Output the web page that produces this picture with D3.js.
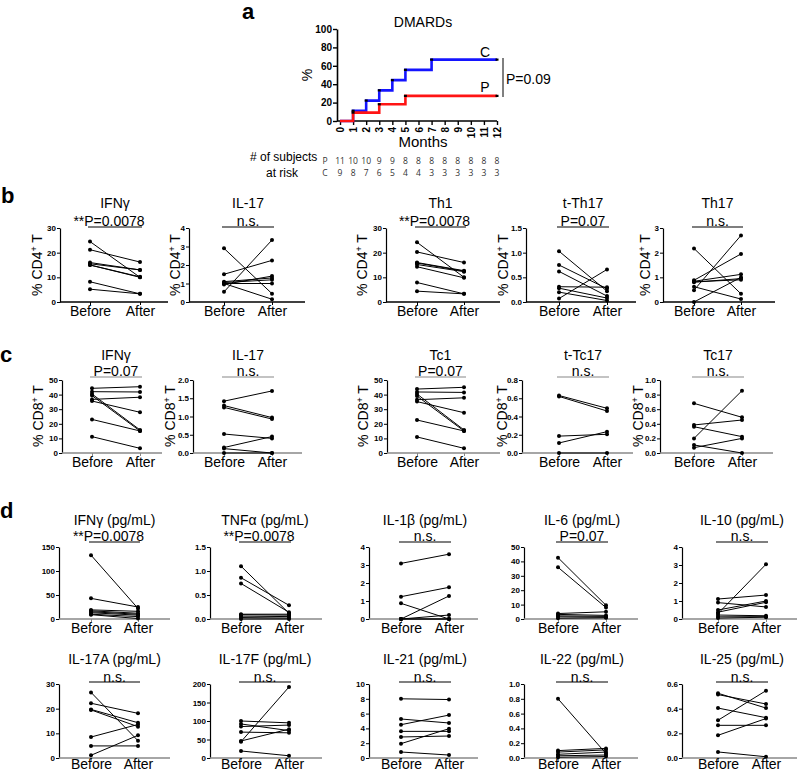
<!DOCTYPE html>
<html><head><meta charset="utf-8">
<script src="https://cdn.jsdelivr.net/npm/d3@7"></script>
<style>
body{margin:0;background:#fff}
svg{display:block;font-family:"Liberation Sans",Arial,sans-serif}
</style>
</head><body>
<svg id="chart" width="798" height="772"></svg>
<script>
// ================= DATA =================
// Panel a: cumulative incidence (DMARDs)
const months = [0,1,2,3,4,5,6,7,8,9,10,11,12];
const kmC_time = [0,1,2,3,4,5,7,12];
const kmC_pct  = [0,11.1,22.2,33.3,44.4,55.6,66.7,66.7];
const kmP_time = [0,1,3,5,12];
const kmP_pct  = [0,9.1,18.2,27.3,27.3];
const kmYTicks = [0,20,40,60,80,100];
const riskP = [11,10,10,9,9,8,8,8,8,8,8,8,8];
const riskC = [9,8,7,6,5,4,4,3,3,3,3,3,3];

const categories = ["Before","After"];

// Panel b: % CD4+ T
const bIFNgBefore  = [24.5,21.2,16,15.5,15,15,8.2,5.2];
const bIFNgAfter   = [10,16.2,13,13,10.2,10,3.3,3.3];
const bIL17Before  = [2.9,1.5,1.1,1.05,1.0,0.95,1.0,0.55];
const bIL17After   = [0.45,2.25,1.3,1.2,1.0,1.4,0.15,3.35];
const bTh1Before   = [24.2,20.3,16,15.8,15.2,14.3,7.9,4.4];
const bTh1After    = [10,16,12.7,12.5,12.3,9.8,3.3,3.3];
const bTTh17Before = [1.03,0.75,0.62,0.31,0.28,0.2,0.07];
const bTTh17After  = [0.22,0.27,0.12,0.3,0.08,0.03,0.66];
const bTh17Before  = [2.17,0.48,0.88,0.84,0.8,0.82,0.62,0];
const bTh17After   = [0.33,2.7,1.95,1.12,0.95,0.9,0.12,1.0];

// Panel c: % CD8+ T
const cIFNgBefore  = [44.3,42,40.4,39.3,36.7,35.6,23,11.2];
const cIFNgAfter   = [45.4,41.8,15.8,15.1,38.2,27.9,15.1,3.2];
const cIL17Before  = [1.42,1.3,1.25,0.52,0.15,0.12,0];
const cIL17After   = [1.7,0.97,0.93,0.4,0.45,0,0];
const cTc1Before   = [43.8,41.8,40.4,39,36.5,35.2,22.6,11];
const cTc1After    = [45,41.5,15.8,15.1,37.8,27.6,15.1,3.2];
const cTTc17Before = [0.63,0.62,0.185,0.11,0];
const cTTc17After  = [0.49,0.46,0.205,0.234,0];
const cTc17Before  = [0.68,0.2,0.384,0.36,0.11,0.073];
const cTc17After   = [0.489,0.854,0.452,0.224,0,0.2];

// Panel d: serum cytokines (pg/mL)
const dIFNgBefore  = [133,43,19,17,15,13,10,9];
const dIFNgAfter   = [22,25,16,12,10,8,5,1];
const dTNFaBefore  = [1.10,0.86,0.74,0.1,0.09,0.06,0.03,0];
const dTNFaAfter   = [0.12,0.285,0.14,0.1,0.08,0.05,0.02,0];
const dIL1bBefore  = [3.09,1.24,0.87,0,0,0,0];
const dIL1bAfter   = [3.6,1.76,0,1.28,0.22,0,0];
const dIL6Before   = [42.6,35.9,3.8,3.2,2.2,1.5,0.5];
const dIL6After    = [9.5,7.9,5,2.5,1.8,1.2,0.8];
const dIL10Before  = [0.3,1.11,0.91,0.5,0.38,0.22,0.12,0.05];
const dIL10After   = [3.04,1.33,0.67,1.0,0.93,0.18,0.13,0.1];
const dIL17ABefore = [26.6,22.2,19.7,19.5,8.5,4.9,1.1];
const dIL17AAfter  = [7.0,18.1,14.3,12.7,13.6,4.9,9.2];
const dIL17FBefore = [100,92,85,70,44,46,19];
const dIL17FAfter  = [95,74,89,68,192,78,6];
const dIL21Before  = [8,5.27,4.5,3.6,2.84,1.94,0.81];
const dIL21After   = [7.9,4.73,5.8,3.6,2.97,3.96,0.4];
const dIL22Before  = [0.8,0.1,0.08,0.05,0.03,0.01];
const dIL22After   = [0.06,0.13,0.11,0.08,0.04,0.02];
const dIL25Before  = [0.525,0.514,0.405,0.306,0.265,0.184,0.049];
const dIL25After   = [0.405,0.438,0.327,0.546,0.265,0.32,0.01];

// tick labels
const t30 = [0,10,20,30], t4 = [0,1,2,3,4], t15 = [0,0.5,1.0,1.5], t3 = [0,1,2,3];
const t50 = [0,10,20,30,40,50], t2 = [0,0.5,1.0,1.5,2.0], t08 = [0,0.2,0.4,0.6,0.8], t10 = [0,0.2,0.4,0.6,0.8,1.0];
const t150 = [0,50,100,150], t200 = [0,50,100,150,200], t10i = [0,2,4,6,8,10], t06 = [0,0.2,0.4,0.6];

// ================= DRAW =================
const svg = d3.select("#chart");
const FONT = '"Liberation Sans",Arial,sans-serif';

function txt(x,y,s,size,opts={}){
  const t = svg.append("text").attr("x",x).attr("y",y).text(s)
    .attr("font-size",size).attr("fill",opts.fill||"#000")
    .attr("text-anchor",opts.anchor||"start");
  if(opts.bold) t.attr("font-weight","bold");
  if(opts.family) t.attr("font-family",opts.family);
  return t;
}

// panel letters
txt(242,19,"a",22,{bold:true});
txt(1,203,"b",22,{bold:true});
txt(0,362,"c",22,{bold:true});
txt(0,518,"d",22,{bold:true});

// ---------- Panel a ----------
const kx = d3.scaleLinear().domain([0,12]).range([340,497]);
const ky = d3.scaleLinear().domain([0,100]).range([121,29]);
txt(423,27,"DMARDs",14,{anchor:"middle"});
const kya = svg.append("g").attr("transform","translate(337,0)")
  .call(d3.axisLeft(ky).tickValues(kmYTicks).tickSize(4).tickSizeOuter(0));
kya.select(".domain").attr("stroke-width",1.6);
kya.selectAll(".tick line").attr("stroke-width",1.4);
kya.selectAll("text").attr("font-size",10).attr("font-weight","bold").attr("font-family",FONT).attr("x",-5);
const kxa = svg.append("g").attr("transform","translate(0,121)")
  .call(d3.axisBottom(kx).tickValues(months).tickSize(4).tickSizeOuter(0));
kxa.select(".domain").remove();
kxa.selectAll(".tick line").attr("stroke-width",1.4);
kxa.selectAll("text").attr("font-size",10).attr("font-weight","bold").attr("font-family",FONT)
  .attr("transform","rotate(-90)").attr("text-anchor","end").attr("x",-6).attr("y",0).attr("dy","0.35em");
svg.append("line").attr("x1",337).attr("x2",kx(12)).attr("y1",121).attr("y2",121)
  .attr("stroke","#000").attr("stroke-width",1.6);
const stepLine = d3.line().x(d=>kx(d[0])).y(d=>ky(d[1])).curve(d3.curveStepAfter);
const cPts = kmC_time.map((t,i)=>[t,kmC_pct[i]]);
const pPts = kmP_time.map((t,i)=>[t,kmP_pct[i]]);
svg.append("path").attr("d",stepLine(cPts)).attr("fill","none").attr("stroke","#1414ff").attr("stroke-width",2.6);
svg.append("path").attr("d",stepLine(pPts)).attr("fill","none").attr("stroke","#ff1414").attr("stroke-width",2.6);
[...cPts.slice(1),...pPts.slice(1)].forEach(d=>{
  svg.append("line").attr("x1",kx(d[0])-1.5).attr("x2",kx(d[0])+1.5).attr("y1",ky(d[1])).attr("y2",ky(d[1]))
    .attr("stroke","#000").attr("stroke-width",2.2);
});
svg.append("text").attr("x",307).attr("y",75).attr("transform","rotate(-90,307,75)")
  .attr("text-anchor","middle").attr("dy","0.35em").attr("font-size",14).text("%");
txt(423,147,"Months",15,{anchor:"middle"});
txt(485,57,"C",14,{anchor:"middle"});
txt(485,92,"P",14,{anchor:"middle"});
svg.append("line").attr("x1",503).attr("x2",503).attr("y1",58).attr("y2",97).attr("stroke","#000").attr("stroke-width",1);
txt(506,84,"P=0.09",14);
txt(250,161,"# of subjects",12);
txt(282,177,"at risk",12,{anchor:"middle"});
const RF = "'Open Sans',sans-serif";
txt(325,164,"P",8.5,{anchor:"middle",fill:"#333",family:RF});
txt(325,176,"C",8.5,{anchor:"middle",fill:"#333",family:RF});
months.forEach((m,i)=>{
  txt(kx(m),164,String(riskP[i]),8.5,{anchor:"middle",fill:"#333",family:RF});
  txt(kx(m),176,String(riskC[i]),8.5,{anchor:"middle",fill:"#333",family:RF});
});

// ---------- before/after panels ----------
const rowB  = {yTop:228,yBot:302,titleY:208,pY:226,brY:227,labY:316,ylY:265,xCol:"#000",brCol:"#000"};
const rowC  = {yTop:380,yBot:453,titleY:360,pY:376,brY:377,labY:467,ylY:416,xCol:"#888",brCol:"#888"};
const rowD1 = {yTop:547,yBot:619,titleY:525,pY:541,brY:542,labY:633,xCol:"#888",brCol:"#000"};
const rowD2 = {yTop:684,yBot:758,titleY:664,pY:682,brY:682,labY:769,xCol:"#888",brCol:"#000"};

const colsB = [
  {ax:60, B:90, A:140,end:168,yl:37},
  {ax:189,B:224,A:272,end:305,yl:175},
  {ax:386,B:417,A:464,end:500,yl:362},
  {ax:526,B:559,A:607,end:636,yl:503},
  {ax:663,B:694,A:741,end:775,yl:645}
];
const colsC = [
  {ax:62, B:92, A:140,end:162,yl:38},
  {ax:193,B:224,A:272,end:302,yl:170},
  {ax:387,B:417,A:464,end:500,yl:363},
  {ax:522,B:559,A:607,end:633,yl:502},
  {ax:660,B:694,A:742,end:773,yl:638}
];
const colsD = [
  {ax:59, B:91, A:138,end:170},
  {ax:210,B:241,A:289,end:322},
  {ax:369,B:401,A:449,end:478},
  {ax:524,B:558,A:606,end:638},
  {ax:682,B:718,A:766,end:797}
];

function fmtFor(ticks){
  const dec = ticks.some(v=>!Number.isInteger(v)) ? 1 : 0;
  return d => d3.format("."+dec+"f")(d);
}

function panel(row,col,title,ptext,ticks,before,after,ylab){
  const g = svg.append("g");
  const y = d3.scaleLinear().domain([0,ticks[ticks.length-1]]).range([row.yBot,row.yTop]);
  const x = d3.scalePoint().domain(categories).range([col.B,col.A]);
  // y axis
  const ya = g.append("g").attr("transform",`translate(${col.ax},0)`)
    .call(d3.axisLeft(y).tickValues(ticks).tickSize(3).tickSizeOuter(0).tickFormat(fmtFor(ticks)));
  ya.select(".domain").attr("stroke-width",1.2);
  ya.selectAll("text").attr("font-size",8).attr("font-weight","bold").attr("font-family",FONT).attr("x",-4);
  // x axis
  g.append("line").attr("x1",col.ax).attr("x2",col.end).attr("y1",row.yBot).attr("y2",row.yBot)
    .attr("stroke",row.xCol).attr("stroke-width",1.5);
  const xa = g.append("g").attr("transform",`translate(0,${row.yBot})`)
    .call(d3.axisBottom(x).tickSize(3));
  xa.select(".domain").remove();
  xa.selectAll("line").attr("stroke",row.xCol);
  xa.selectAll("text").attr("font-size",14).attr("font-family",FONT).attr("y",row.labY-row.yBot).attr("dy",0);
  // title + bracket + p text
  const cx = (col.B+col.A)/2;
  g.append("text").attr("x",cx).attr("y",row.titleY).attr("text-anchor","middle").attr("font-size",14).text(title);
  g.append("line").attr("x1",col.B-2).attr("x2",col.A+2).attr("y1",row.brY).attr("y2",row.brY)
    .attr("stroke",row.brCol).attr("stroke-width",1.2);
  g.append("text").attr("x",ptext.startsWith("**")?cx-6:cx).attr("y",row.pY).attr("text-anchor","middle")
    .attr("font-size",14).text(ptext);
  // y label
  if(ylab){
    const t = g.append("text").attr("transform",`translate(${col.yl},${row.ylY}) rotate(-90)`)
      .attr("text-anchor","middle").attr("dy","0.35em").attr("font-size",14);
    t.append("tspan").text("% "+ylab);
    t.append("tspan").attr("dy",-5).attr("font-size",9).text("+");
    t.append("tspan").attr("dy",5).text(" T");
  }
  // paired lines and points
  const pairs = before.map((b,i)=>[b,after[i]]);
  g.selectAll("line.pair").data(pairs).enter().append("line").attr("class","pair")
    .attr("x1",x("Before")).attr("x2",x("After"))
    .attr("y1",d=>y(d[0])).attr("y2",d=>y(d[1]))
    .attr("stroke","#000").attr("stroke-width",1);
  const pts = [];
  pairs.forEach(d=>{pts.push(["Before",d[0]]);pts.push(["After",d[1]]);});
  g.selectAll("circle").data(pts).enter().append("circle")
    .attr("cx",d=>x(d[0])).attr("cy",d=>y(d[1])).attr("r",2).attr("fill","#000");
}

panel(rowB,colsB[0],"IFNγ","**P=0.0078",t30,bIFNgBefore,bIFNgAfter,"CD4");
panel(rowB,colsB[1],"IL-17","n.s.",t4,bIL17Before,bIL17After,"CD4");
panel(rowB,colsB[2],"Th1","**P=0.0078",t30,bTh1Before,bTh1After,"CD4");
panel(rowB,colsB[3],"t-Th17","P=0.07",t15,bTTh17Before,bTTh17After,"CD4");
panel(rowB,colsB[4],"Th17","n.s.",t3,bTh17Before,bTh17After,"CD4");

panel(rowC,colsC[0],"IFNγ","P=0.07",t50,cIFNgBefore,cIFNgAfter,"CD8");
panel(rowC,colsC[1],"IL-17","n.s.",t2,cIL17Before,cIL17After,"CD8");
panel(rowC,colsC[2],"Tc1","P=0.07",t50,cTc1Before,cTc1After,"CD8");
panel(rowC,colsC[3],"t-Tc17","n.s.",t08,cTTc17Before,cTTc17After,"CD8");
panel(rowC,colsC[4],"Tc17","n.s.",t10,cTc17Before,cTc17After,"CD8");

panel(rowD1,colsD[0],"IFNγ (pg/mL)","**P=0.0078",t150,dIFNgBefore,dIFNgAfter);
panel(rowD1,colsD[1],"TNFα (pg/mL)","**P=0.0078",t15,dTNFaBefore,dTNFaAfter);
panel(rowD1,colsD[2],"IL-1β (pg/mL)","n.s.",t4,dIL1bBefore,dIL1bAfter);
panel(rowD1,colsD[3],"IL-6 (pg/mL)","P=0.07",t50,dIL6Before,dIL6After);
panel(rowD1,colsD[4],"IL-10 (pg/mL)","n.s.",t4,dIL10Before,dIL10After);

panel(rowD2,colsD[0],"IL-17A (pg/mL)","n.s.",t30,dIL17ABefore,dIL17AAfter);
panel(rowD2,colsD[1],"IL-17F (pg/mL)","n.s.",t200,dIL17FBefore,dIL17FAfter);
panel(rowD2,colsD[2],"IL-21 (pg/mL)","n.s.",t10i,dIL21Before,dIL21After);
panel(rowD2,colsD[3],"IL-22 (pg/mL)","n.s.",t10,dIL22Before,dIL22After);
panel(rowD2,colsD[4],"IL-25 (pg/mL)","n.s.",t06,dIL25Before,dIL25After);
</script>
</body></html>
